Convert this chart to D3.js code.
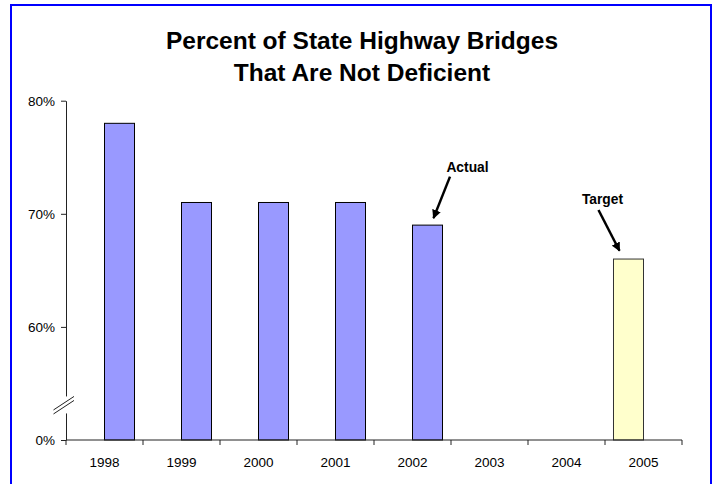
<!DOCTYPE html>
<html>
<head>
<meta charset="utf-8">
<script src="https://cdn.jsdelivr.net/npm/d3@7/dist/d3.min.js"></script>
<style>
  html, body { margin: 0; padding: 0; background: #fff; }
  svg { display: block; }
  text { font-family: "Liberation Sans", Arial, sans-serif; fill: #000; }
</style>
</head>
<body>
<svg id="chart" width="715" height="484"></svg>
<script>
// Bridge condition by year: actual results and the 2005 target
const years = ["1998", "1999", "2000", "2001", "2002", "2003", "2004", "2005"];
const seriesNames = ["Target", "Actual"];
const actualValues = [78, 71, 71, 71, 69, null, null, null];
const targetValues = [null, null, null, null, null, null, null, 66];
const yTickValues = [50, 60, 70, 80];
const yTickLabels = ["0%", "60%", "70%", "80%"];
const titleLines = ["Percent of State Highway Bridges", "That Are Not Deficient"];
const callouts = [
  { label: "Actual", year: "2002", series: "Actual" },
  { label: "Target", year: "2005", series: "Target" }
];

const svg = d3.select("#chart");
const W = 715, H = 484;
const plot = { left: 66, right: 682, top: 100.7, bottom: 440 };

// outer frame
svg.append("rect")
  .attr("x", 11).attr("y", 5)
  .attr("width", 700).attr("height", 500)
  .attr("fill", "#fff")
  .attr("stroke", "#0000FF")
  .attr("stroke-width", 2);

// title
svg.append("g").selectAll("text")
  .data(titleLines)
  .join("text")
  .attr("x", 362)
  .attr("y", (d, i) => 49 + i * 31.5)
  .attr("text-anchor", "middle")
  .attr("font-size", 24.5)
  .attr("font-weight", "bold")
  .text(d => d);

const x = d3.scaleBand().domain(years).range([plot.left, plot.right]).padding(0);
const xs = d3.scaleBand().domain(seriesNames).range([0, x.bandwidth()])
  .paddingInner(0).paddingOuter(0.283);
const y = d3.scaleLinear().domain([50, 80]).range([plot.bottom, plot.top]);

const rows = years.map((yr, i) => [
  { year: yr, series: "Target", value: targetValues[i] },
  { year: yr, series: "Actual", value: actualValues[i] }
]).flat().filter(d => d.value != null);

const fills = { Actual: "#9999FF", Target: "#FFFFCC" };
const strokes = { Actual: "#000", Target: "#333" };

// bars
svg.append("g").selectAll("rect")
  .data(rows)
  .join("rect")
  .attr("x", d => x(d.year) + xs(d.series))
  .attr("y", d => y(d.value))
  .attr("width", xs.bandwidth())
  .attr("height", d => y(50) - y(d.value))
  .attr("fill", d => fills[d.series])
  .attr("stroke", d => strokes[d.series])
  .attr("stroke-width", 1);

// y axis
const yAxis = d3.axisLeft(y)
  .tickValues(yTickValues)
  .tickFormat((d, i) => yTickLabels[i])
  .tickSize(5)
  .tickPadding(6)
  .tickSizeOuter(0);
const gy = svg.append("g").attr("transform", `translate(${plot.left},0)`).call(yAxis);
gy.selectAll("path, line").attr("stroke", "#222");
gy.selectAll("text").attr("font-size", 13.5).style("font-family", "'Liberation Sans', Arial, sans-serif");

// x axis: baseline with ticks on category boundaries, labels centred in each band
const gx = svg.append("g");
gx.append("line")
  .attr("x1", plot.left).attr("x2", plot.right)
  .attr("y1", y(50)).attr("y2", y(50))
  .attr("stroke", "#222");
const edges = years.map(d => x(d)).concat([plot.right]);
gx.selectAll("line.tick")
  .data(edges)
  .join("line")
  .attr("class", "tick")
  .attr("x1", d => d).attr("x2", d => d)
  .attr("y1", y(50)).attr("y2", y(50) + 5)
  .attr("stroke", "#222");
gx.selectAll("text")
  .data(years)
  .join("text")
  .attr("x", d => x(d) + x.bandwidth() / 2)
  .attr("y", y(50) + 26.5)
  .attr("text-anchor", "middle")
  .attr("font-size", 13.5)
  .text(d => d);

// axis break between 0% and 60%
const yb = y(53.1);
const brk = svg.append("g");
brk.append("rect")
  .attr("x", plot.left - 3).attr("y", yb - 8.5)
  .attr("width", 6).attr("height", 17)
  .attr("fill", "#fff");
[-2, 2].forEach(off => {
  brk.append("line")
    .attr("x1", plot.left - 12.5).attr("y1", yb + off + 7)
    .attr("x2", plot.left + 8).attr("y2", yb + off - 6.5)
    .attr("stroke", "#222").attr("stroke-width", 1);
});

// callout labels with arrows
svg.append("defs").append("marker")
  .attr("id", "head")
  .attr("viewBox", "0 0 10 10")
  .attr("refX", 9).attr("refY", 5)
  .attr("markerWidth", 3.6).attr("markerHeight", 3.6)
  .attr("markerUnits", "strokeWidth")
  .attr("orient", "auto")
  .append("path")
  .attr("d", "M0,0 L10,5 L0,10 Z")
  .attr("fill", "#000");

const calloutGeom = {
  Actual: { tx: 40, ty: -53.6, x1: 22.5, y1: -48.5, x2: 6, y2: -7 },
  Target: { tx: -26, ty: -55, x1: -30, y1: -49, x2: -9, y2: -8.3 }
};
callouts.forEach(c => {
  const v = c.series === "Actual" ? actualValues[years.indexOf(c.year)] : targetValues[years.indexOf(c.year)];
  const cx = x(c.year) + xs(c.series) + xs.bandwidth() / 2;
  const top = y(v);
  const g = calloutGeom[c.series];
  svg.append("text")
    .attr("x", cx + g.tx).attr("y", top + g.ty)
    .attr("text-anchor", "middle")
    .attr("font-size", 13.8)
    .attr("font-weight", "bold")
    .text(c.label);
  svg.append("line")
    .attr("x1", cx + g.x1).attr("y1", top + g.y1)
    .attr("x2", cx + g.x2).attr("y2", top + g.y2)
    .attr("stroke", "#000").attr("stroke-width", 2.5)
    .attr("marker-end", "url(#head)");
});
</script>
</body>
</html>
